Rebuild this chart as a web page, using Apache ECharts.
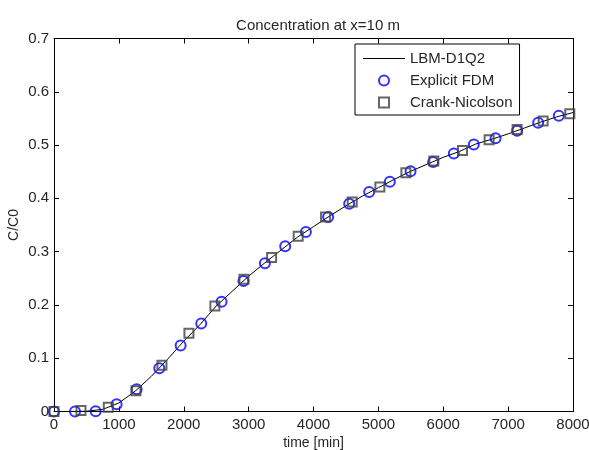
<!DOCTYPE html>
<html>
<head>
<meta charset="utf-8">
<script src="https://cdn.jsdelivr.net/npm/echarts@6/dist/echarts.min.js"></script>
<style>
  html, body { margin: 0; padding: 0; background: #fff; }
  #chart { width: 589px; height: 450px; }
</style>
</head>
<body>
<div id="chart"></div>
<script>
// Breakthrough curve at x = 10 m
const lbmTime = [0, 250, 500, 750, 1000, 1250, 1500, 1750, 2000, 2250, 2500, 2750, 3000, 3250, 3500, 3750, 4000, 4250, 4500, 4750, 5000, 5250, 5500, 5750, 6000, 6250, 6500, 6750, 7000, 7250, 7500, 7750, 8000];
const lbmConc = [0, 0, 0.0005, 0.004, 0.016, 0.038, 0.066, 0.098, 0.132, 0.163, 0.198, 0.226, 0.254, 0.279, 0.303, 0.327, 0.347, 0.367, 0.386, 0.404, 0.420, 0.436, 0.451, 0.464, 0.477, 0.488, 0.502, 0.511, 0.521, 0.532, 0.543, 0.553, 0.561];

const fdmTime = [0, 324, 642, 965, 1274, 1623, 1952, 2270, 2583, 2920, 3251, 3564, 3883, 4226, 4550, 4858, 5177, 5496, 5844, 6163, 6471, 6806, 7139, 7463, 7781];
const fdmConc = [0, 0, 0.0005, 0.0135, 0.0416, 0.081, 0.124, 0.165, 0.206, 0.245, 0.278, 0.310, 0.337, 0.365, 0.390, 0.412, 0.431, 0.451, 0.468, 0.484, 0.501, 0.513, 0.527, 0.542, 0.555];

const cnTime = [0, 416, 837, 1263, 1664, 2080, 2480, 2928, 3354, 3764, 4186, 4597, 5023, 5424, 5855, 6297, 6707, 7139, 7540, 7951];
const cnConc = [0, 0.002, 0.008, 0.039, 0.087, 0.147, 0.198, 0.248, 0.289, 0.329, 0.365, 0.393, 0.4215, 0.448, 0.470, 0.490, 0.510, 0.529, 0.545, 0.559];

const seriesNames = ['LBM-D1Q2', 'Explicit FDM', 'Crank-Nicolson'];
const titleText = 'Concentration at x=10 m';
const xName = 'time [min]';
const yName = 'C/C0';

const pairs = (xs, ys) => xs.map((x, i) => [x, ys[i]]);

const FONT = 'Liberation Sans, Arial, sans-serif';
const TXT = '#262626';

const tickInside = { show: true, inside: true, length: 5, lineStyle: { color: '#000', width: 1 } };
const axisLine = { show: true, onZero: false, lineStyle: { color: '#000', width: 1 } };

const chart = echarts.init(document.getElementById('chart'), null, { renderer: 'canvas' });
chart.setOption({
  animation: false,
  backgroundColor: '#fff',
  title: {
    text: titleText,
    left: 313,
    top: 13,
    textAlign: 'center',
    textStyle: { fontFamily: FONT, fontSize: 15, fontWeight: 'normal', color: TXT }
  },
  grid: { left: 54, right: 16, top: 38.5, bottom: 38.5, containLabel: false, outerBoundsMode: 'none' },
  legend: {
    data: [
      // thin bar for the solid line sample
      { name: seriesNames[0], icon: 'path://M0,0H42V1H0Z', itemStyle: { color: '#000', borderWidth: 0 } },
      { name: seriesNames[1], icon: 'circle' },
      { name: seriesNames[2], icon: 'path://M0,0H10V10H0Z' }
    ],
    orient: 'vertical',
    left: 355,
    top: 44,
    padding: [7, 7, 5, 8],
    itemWidth: 42,
    itemHeight: 10,
    itemGap: 7,
    backgroundColor: '#fff',
    borderColor: '#000',
    borderWidth: 1,
    borderRadius: 0,
    textStyle: { fontFamily: FONT, fontSize: 15, color: TXT, lineHeight: 14 }
  },
  xAxis: [
    {
      type: 'value', min: 0, max: 8000, interval: 1000,
      name: xName, nameLocation: 'middle', nameGap: 25, nameMoveOverlap: false,
      nameTextStyle: { fontFamily: FONT, fontSize: 14, color: TXT },
      axisLine: axisLine, axisTick: tickInside,
      axisLabel: { fontFamily: FONT, fontSize: 15, color: TXT, margin: 6, formatter: v => String(v) },
      splitLine: { show: false }
    },
    {
      type: 'value', min: 0, max: 8000, interval: 1000, position: 'top',
      axisLine: axisLine, axisTick: tickInside,
      axisLabel: { show: false }, splitLine: { show: false }
    }
  ],
  yAxis: [
    {
      type: 'value', min: 0, max: 0.7, interval: 0.1,
      name: yName, nameLocation: 'middle', nameGap: 33, nameMoveOverlap: false,
      nameTextStyle: { fontFamily: FONT, fontSize: 14, color: TXT },
      axisLine: axisLine, axisTick: tickInside,
      axisLabel: { fontFamily: FONT, fontSize: 15, color: TXT, margin: 5,
        formatter: v => (Math.round(v * 10) / 10).toString() },
      splitLine: { show: false }
    },
    {
      type: 'value', min: 0, max: 0.7, interval: 0.1, position: 'right',
      axisLine: axisLine, axisTick: tickInside,
      axisLabel: { show: false }, splitLine: { show: false }
    }
  ],
  series: [
    {
      name: seriesNames[0], type: 'line', symbol: 'none',
      data: pairs(lbmTime, lbmConc),
      lineStyle: { color: '#000', width: 1 },
      itemStyle: { color: '#000' },
      z: 3
    },
    {
      name: seriesNames[1], type: 'scatter', symbol: 'circle', symbolSize: 10,
      data: pairs(fdmTime, fdmConc),
      itemStyle: { color: 'rgba(0,0,0,0)', borderColor: '#0000ff', borderWidth: 2 },
      z: 4
    },
    {
      name: seriesNames[2], type: 'scatter', symbol: 'rect', symbolSize: 9,
      data: pairs(cnTime, cnConc),
      itemStyle: { color: 'rgba(0,0,0,0)', borderColor: '#404040', borderWidth: 2 },
      z: 5
    }
  ]
});
</script>
</body>
</html>
